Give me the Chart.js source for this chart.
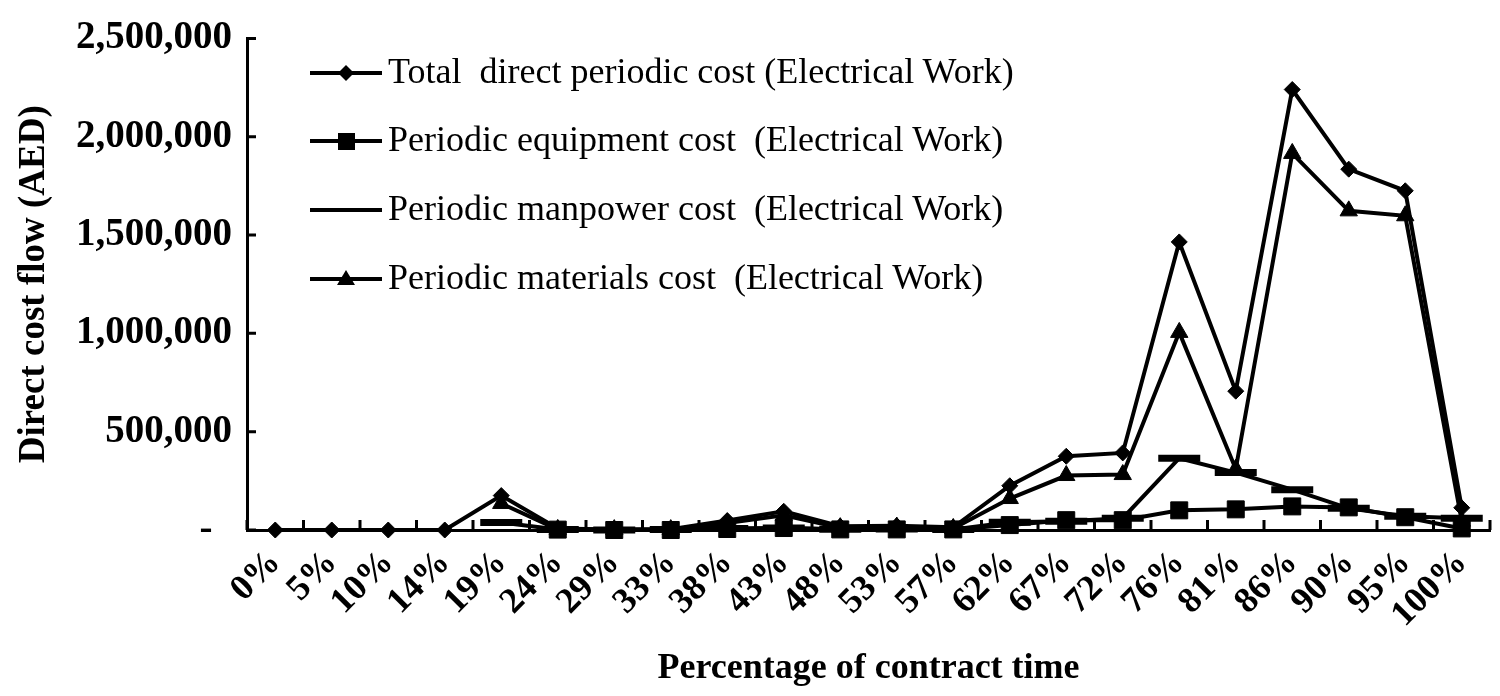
<!DOCTYPE html>
<html>
<head>
<meta charset="utf-8">
<script src="https://cdn.jsdelivr.net/npm/chart.js@4.4.0/dist/chart.umd.min.js"></script>
<style>
  body { margin: 0; background: #fff; }
  #wrap { position: relative; width: 1500px; height: 696px; }
  .leg { position: absolute; left: 310px; height: 40px; line-height: 40px;
         font-family: "Liberation Serif", "Times New Roman", serif; font-size: 36px;
         color: #000; white-space: pre; }
  .leg svg { position: absolute; left: 0; top: 0; }
  .leg span { position: absolute; left: 78px; top: 0; }
</style>
</head>
<body>
<div id="wrap">
  <canvas id="costChart" width="1500" height="696"></canvas>
  <div class="leg" style="top:51px">
    <svg width="72" height="40"><line x1="0" y1="22" x2="72" y2="22" stroke="#000" stroke-width="4"/><polygon points="36,14 44,22 36,30 28,22" fill="#000"/></svg>
    <span>Total  direct periodic cost (Electrical Work)</span>
  </div>
  <div class="leg" style="top:119px">
    <svg width="72" height="40"><line x1="0" y1="22" x2="72" y2="22" stroke="#000" stroke-width="4"/><rect x="28" y="14" width="17" height="17" fill="#000"/></svg>
    <span>Periodic equipment cost  (Electrical Work)</span>
  </div>
  <div class="leg" style="top:188px">
    <svg width="72" height="40"><line x1="0" y1="22" x2="72" y2="22" stroke="#000" stroke-width="4"/></svg>
    <span>Periodic manpower cost  (Electrical Work)</span>
  </div>
  <div class="leg" style="top:257px">
    <svg width="72" height="40"><line x1="0" y1="22" x2="72" y2="22" stroke="#000" stroke-width="4"/><polygon points="36,13 45,28 27,28" fill="#000"/></svg>
    <span>Periodic materials cost  (Electrical Work)</span>
  </div>
</div>
<script>
const timeLabels = ['0%', '5%', '10%', '14%', '19%', '24%', '29%', '33%', '38%', '43%', '48%',
    '53%', '57%', '62%', '67%', '72%', '76%', '81%', '86%', '90%', '95%', '100%'];

const totalCost = [0, 0, 0, 0, 175000, 8000, 2000, 4000, 48000, 95000, 19000,
    22000, 14000, 225000, 375000, 392000, 1465000, 706000, 2240000, 1835000, 1725000, 113000];
const equipmentCost = [null, null, null, null, null, 2000, 0, 0, 5000, 10000, 3000,
    3000, 3000, 25000, 50000, 50000, 100000, 105000, 120000, 115000, 65000, 8000];
const manpowerCost = [null, null, null, null, 38000, 3000, 0, 2000, 8000, 10000, 4000,
    5000, 3000, 40000, 45000, 60000, 365000, 292000, 205000, 110000, 70000, 60000];
const materialsCost = [null, null, null, null, 135000, 3000, 2000, 2000, 35000, 75000, 12000,
    15000, 8000, 160000, 277000, 282000, 1005000, 310000, 1915000, 1623000, 1598000, 45000];

const yTicks = [0, 500000, 1000000, 1500000, 2000000, 2500000];

const serif = '"Liberation Serif", "Times New Roman", serif';

// small inward tick marks like the original axes
const innerTicks = {
    id: 'innerTicks',
    afterDraw(chart) {
        const { ctx, chartArea, scales: { x, y } } = chart;
        ctx.save();
        ctx.strokeStyle = '#000';
        ctx.lineWidth = 3;
        ctx.beginPath();
        yTicks.forEach(v => {
            const py = y.getPixelForValue(v);
            ctx.moveTo(chartArea.left, py);
            ctx.lineTo(chartArea.left + 9, py);
        });
        const step = x.getPixelForValue(1) - x.getPixelForValue(0);
        for (let i = 0; i <= timeLabels.length; i++) {
            const px = x.getPixelForValue(0) + (i - 0.5) * step;
            ctx.moveTo(px, chartArea.bottom);
            ctx.lineTo(px, chartArea.bottom - 10);
        }
        ctx.stroke();
        ctx.restore();
    }
};

function series(data, style, radius, border) {
    return {
        data: data,
        borderColor: '#000',
        backgroundColor: '#000',
        borderWidth: 4,
        pointStyle: style,
        pointRadius: radius,
        pointHoverRadius: radius,
        pointBackgroundColor: '#000',
        pointBorderColor: '#000',
        pointBorderWidth: border,
        tension: 0,
        clip: false
    };
}

const ctx = document.getElementById('costChart').getContext('2d');
new Chart(ctx, {
    type: 'line',
    data: {
        labels: timeLabels,
        datasets: [
            Object.assign(series(totalCost, 'rectRot', 8, 1), { label: 'Total  direct periodic cost (Electrical Work)' }),
            Object.assign(series(equipmentCost, 'rect', 12, 1), { label: 'Periodic equipment cost  (Electrical Work)' }),
            Object.assign(series(manpowerCost, 'line', 21, 7), { label: 'Periodic manpower cost  (Electrical Work)' }),
            Object.assign(series(materialsCost, 'triangle', 10, 1), { label: 'Periodic materials cost  (Electrical Work)' })
        ]
    },
    options: {
        responsive: false,
        animation: false,
        layout: { autoPadding: false, padding: { top: 33, right: 10, left: 0, bottom: 0 } },
        plugins: { legend: { display: false }, tooltip: { enabled: false } },
        scales: {
            x: {
                offset: true,
                grid: { display: false, drawTicks: false, offset: true },
                border: { color: '#000', width: 3 },
                ticks: {
                    autoSkip: false, maxRotation: 45, minRotation: 45, padding: 12,
                    color: '#000', font: { family: serif, size: 36, weight: 'bold' }
                },
                title: {
                    display: true, text: 'Percentage of contract time', color: '#000',
                    padding: { top: 0, bottom: 6 },
                    font: { family: serif, size: 36, weight: 'bold' }
                },
                afterFit(scale) {
                    scale.height = 166;
                    scale.paddingLeft = 0;
                    scale.paddingRight = 0;
                }
            },
            y: {
                min: 0, max: 2500000,
                grid: { display: false, drawTicks: false },
                border: { color: '#000', width: 3 },
                afterBuildTicks(scale) { scale.ticks = yTicks.map(v => ({ value: v })); },
                ticks: {
                    padding: 15, color: '#000',
                    font: { family: serif, size: 39, weight: 'bold' },
                    callback: v => v === 0 ? '-  ' : v.toLocaleString('en-US')
                },
                title: {
                    display: true, text: 'Direct cost flow (AED)', color: '#000',
                    padding: { top: 12, bottom: 0 },
                    font: { family: serif, size: 37, weight: 'bold' }
                },
                afterFit(scale) { scale.width = 247; }
            }
        }
    },
    plugins: [innerTicks]
});
</script>
</body>
</html>
